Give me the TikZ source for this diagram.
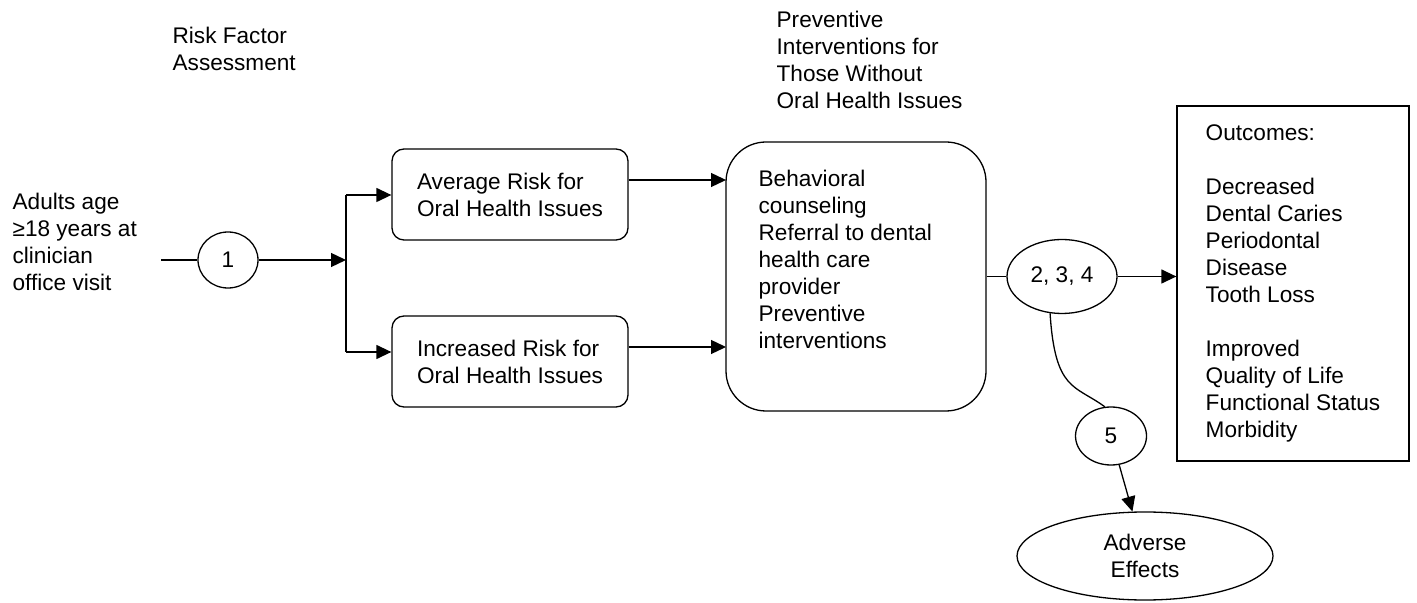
\documentclass[tikz,border=0pt]{standalone}
\usepackage{fontspec}
\setmainfont{Liberation Sans}
\usetikzlibrary{arrows.meta,shapes.geometric}

\begin{document}
\begin{tikzpicture}[x=0.5pt,y=-0.5pt,line width=0.65pt,
  every node/.style={font=\fontsize{11.3}{13.5}\selectfont},
  txt/.style={align=left,inner sep=0pt},
  rbox/.style={draw,rounded corners=6pt,align=left,minimum width=118pt,minimum height=45.5pt,inner sep=0pt},
  oval/.style={draw,ellipse,inner sep=0pt,align=center},
  arr/.style={-{Triangle[length=7.5pt,width=7pt]}}]
\useasboundingbox (0,0) rectangle (1417,603);
% headings
\node[txt,anchor=west] (riskhead) at (172,48.5) {Risk Factor\\Assessment};
\node[txt,anchor=west] (prevhead) at (776,60) {Preventive\\Interventions for\\Those Without\\Oral Health Issues};
% population and risk groups
\node[txt,anchor=west] (adults) at (12,242) {Adults age\\≥18 years at\\clinician\\office visit};
\node[oval,minimum width=30pt,minimum height=28pt] (kq1) at (228,260) {1};
\coordinate (start) at (161,260);
\coordinate (split) at (346,260);
\coordinate (splittop) at (346,195);
\coordinate (splitbot) at (346,352);
\node[rbox] (avg) at (510,194.5) {Average Risk for\\Oral Health Issues};
\node[rbox] (inc) at (510,361.5) {Increased Risk for\\Oral Health Issues};
% interventions
\node[draw,rounded corners=20pt,minimum width=130pt,minimum height=134.5pt] (prev) at (856,276.5) {};
\node[txt,anchor=west] (prevtxt) at (758,259.5) {Behavioral\\counseling\\Referral to dental\\health care\\provider\\Preventive\\interventions};
\coordinate (inavg) at (726,180);
\coordinate (ininc) at (726,347);
% outcomes and harms
\node[oval,minimum width=55pt,minimum height=37pt] (kq234) at (1062,276.5) {2, 3, 4};
\node[draw,align=left,minimum width=116pt,minimum height=177.5pt,inner sep=0pt] (outc) at (1293,283.5)
  {Outcomes:\\[13.5pt]Decreased\\Dental Caries\\Periodontal\\Disease\\Tooth Loss\\[13.5pt]Improved\\Quality of Life\\Functional Status\\Morbidity};
\node[oval,minimum width=35.5pt,minimum height=29pt] (kq5) at (1111,436) {5};
\node[oval,minimum width=128pt,minimum height=44pt] (adv) at (1145,556) {Adverse\\Effects};
% connectors
\draw (start) -- (kq1);
\draw[arr] (kq1) -- (split);
\draw (splittop) -- (splitbot);
\draw[arr] (splittop) -- (splittop -| avg.west);
\draw[arr] (splitbot) -- (splitbot -| inc.west);
\draw[arr] (inavg -| avg.east) -- (inavg);
\draw[arr] (ininc -| inc.east) -- (ininc);
\draw (prev) -- (kq234);
\draw[arr] (kq234) -- (kq234 -| outc.west);
\draw (kq234.252) .. controls +(5,78) and +(-30,-22) .. (kq5.102);
\draw[arr] (kq5) -- (adv);
\end{tikzpicture}
\end{document}
